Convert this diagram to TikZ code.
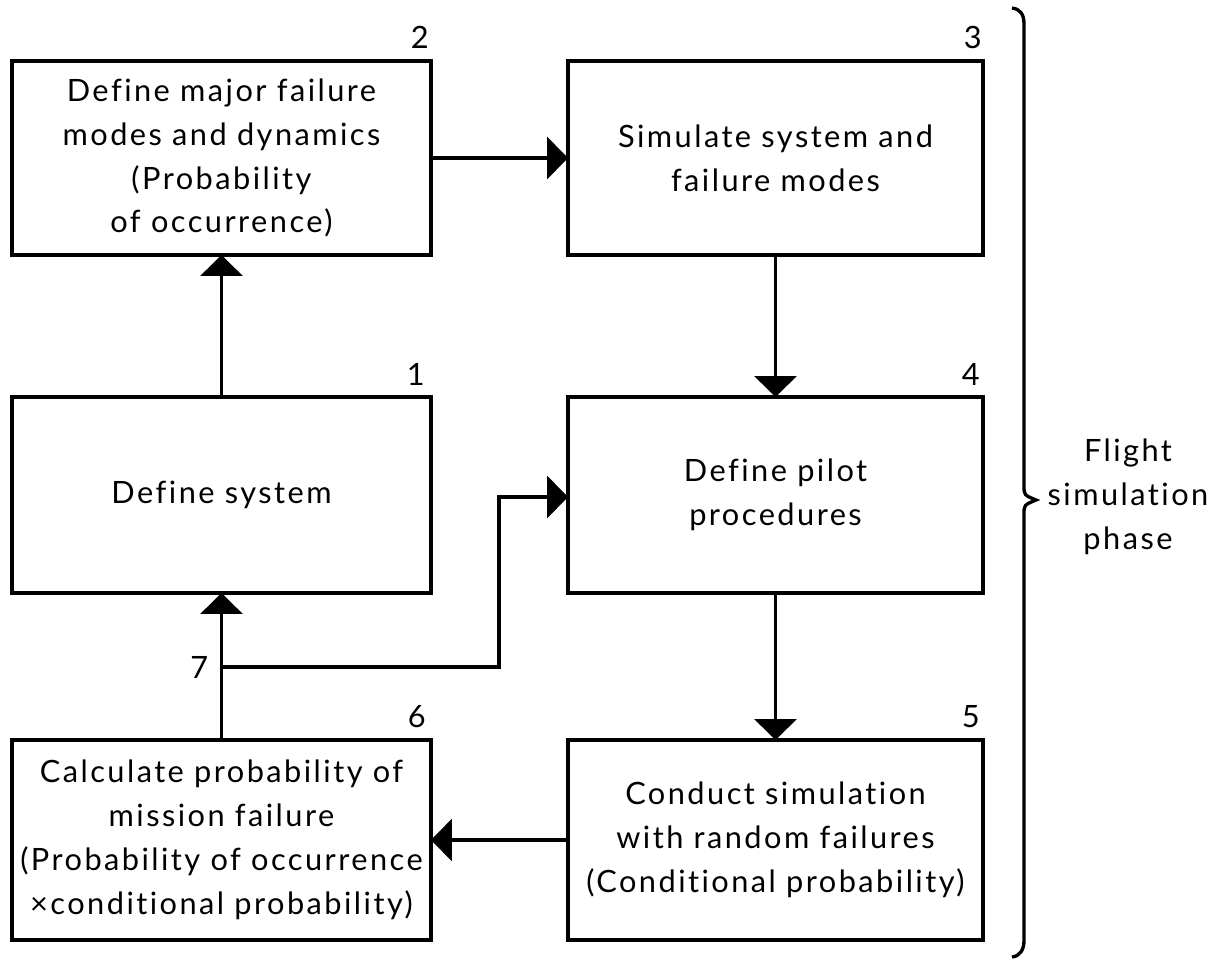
\documentclass[tikz,border=0pt]{standalone}
\usepackage{fontspec}
\setmainfont{Lato}[LetterSpace=8,WordSpace=1.3,Ligatures=NoCommon]
\usetikzlibrary{arrows.meta,calc}
\newcommand\bxfont{\fontsize{17.5}{25}\selectfont}
\begin{document}
\begin{tikzpicture}[x=0.02cm,y=-0.02cm,
  box/.style={draw,line width=1.9pt,rectangle,inner sep=0pt,outer sep=0pt,align=center,font=\bxfont,text width=8.3cm},
  wide/.style={minimum width=8.38cm},
  narrow/.style={minimum width=8.3cm},
  arr/.style={line width=1.9pt,-{Triangle[length=0.42cm,width=0.84cm]}},
  num/.style={anchor=base east,font=\bxfont,inner sep=0pt},
  ln/.style={line width=1.9pt}]
\useasboundingbox (0,0) rectangle (1219,958);

\node[box,wide,minimum height=3.88cm] (b2) at (221.5,158) {Define major failure\\modes and dynamics\\(Probability\\of occurrence)};
\node[box,narrow,minimum height=3.88cm] (b3) at (775.5,158) {Simulate system and\\failure modes};
\node[box,wide,minimum height=3.92cm] (b1) at (221.5,495) {Define system};
\node[box,narrow,minimum height=3.92cm] (b4) at (775.5,495) {Define pilot\\procedures};
\node[box,wide,minimum height=4.0cm] (b6) at (221.5,840) {Calculate probability of\\mission failure\\(Probability of occurrence\\×conditional probability)};
\node[box,narrow,minimum height=4.0cm] (b5) at (775.5,840) {Conduct simulation\\with random failures\\(Conditional probability)};

\node[num] (n2) at ($(b2.north east)+(-2,-13)$) {2};
\node[num] (n3) at ($(b3.north east)+(-1,-13)$) {3};
\node[num] (n1) at ($(b1.north east)+(-6,-12)$) {1};
\node[num] (n4) at ($(b4.north east)+(-3,-12)$) {4};
\node[num] (n6) at ($(b6.north east)+(-5,-13)$) {6};
\node[num] (n5) at ($(b5.north east)+(-3,-13)$) {5};

\coordinate (j) at (221.5,667);
\coordinate (k) at (499,497);
\node[anchor=east,font=\bxfont,inner sep=0pt] (n7) at ($(j)+(-13,0)$) {7};

\draw[arr] (b2) -- (b3);
\draw[arr] (b1) -- (b2);
\draw[arr] (b3) -- (b4);
\draw[arr] (b4) -- (b5);
\draw[arr] (b5) -- (b6);
\draw[arr] (b6) -- (b1);
\draw[arr] (j) -- (j -| k) -- (k) -- (k -| b4.west);

\draw[ln] (1012,8) .. controls (1020,9) and (1024,14) .. (1024,24)
  -- (1024,486) .. controls (1024,495) .. (1036,500)
  .. controls (1024,505) .. (1024,514)
  -- (1024,940) .. controls (1024,950) and (1020,956) .. (1012,957);

\node[align=center,font=\bxfont,inner sep=0pt] (lab) at (1128,497) {Flight\\simulation\\phase};
\end{tikzpicture}
\end{document}
